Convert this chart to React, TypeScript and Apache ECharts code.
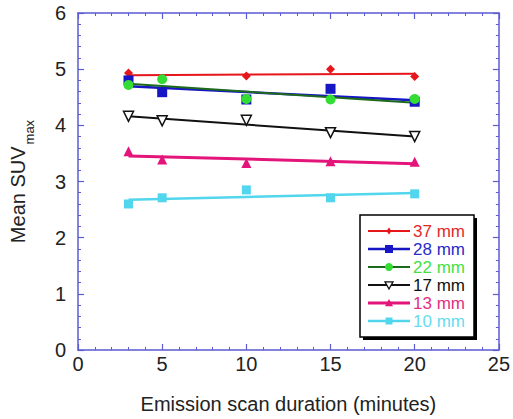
import React, { useEffect, useRef } from "react";
import * as echarts from "echarts";

const durations = [3, 5, 10, 15, 20];
const sizes = ["37 mm", "28 mm", "22 mm", "17 mm", "13 mm", "10 mm"];
const v37 = [4.93, 4.84, 4.88, 5.0, 4.87];
const v28 = [4.8, 4.59, 4.46, 4.65, 4.42];
const v22 = [4.72, 4.82, 4.47, 4.46, 4.47];
const v17 = [4.16, 4.08, 4.09, 3.87, 3.8];
const v13 = [3.54, 3.39, 3.33, 3.36, 3.35];
const v10 = [2.6, 2.71, 2.85, 2.71, 2.78];
const values = [v37, v28, v22, v17, v13, v10];

const lineColors = ["#e5161c", "#1616c4", "#1d6a1d", "#111111", "#e3157a", "#52d6ee"];
const markColors = ["#e5161c", "#1616c4", "#33dd33", "#ffffff", "#e3157a", "#52d6ee"];
const textColors = ["#e02a2a", "#2a2ac8", "#44e044", "#111111", "#e0307f", "#66dcf0"];
const symbols = ["diamond", "rect", "circle", "triangle", "triangle", "rect"];
const symSizes = [9, 10, 10, 10, 10, 9];
const lineWidths = [2, 2.5, 2, 2, 3, 2.5];

function fit(xs: number[], ys: number[]) {
  const n = xs.length;
  const mx = xs.reduce((a, b) => a + b, 0) / n;
  const my = ys.reduce((a, b) => a + b, 0) / n;
  let sxx = 0, sxy = 0;
  for (let i = 0; i < n; i++) {
    sxx += (xs[i] - mx) ** 2;
    sxy += (xs[i] - mx) * (ys[i] - my);
  }
  const b = sxy / sxx;
  const a = my - b * mx;
  const x0 = Math.min(...xs), x1 = Math.max(...xs);
  return [[x0, a + b * x0], [x1, a + b * x1]];
}

export default function App() {
  const ref = useRef<HTMLDivElement>(null);
  useEffect(() => {
    const chart = echarts.init(ref.current!, undefined, { renderer: "svg" });
    const font = "'Liberation Sans', Arial, sans-serif";
    const axisColor = "#5b5bd2";
    const baseAxis = {
      axisLine: { show: true, onZero: false, lineStyle: { color: axisColor, width: 1.5 } },
      axisTick: { show: true, inside: true, length: 6, lineStyle: { color: axisColor, width: 1.2 } },
      minorTick: { show: true, splitNumber: 5, length: 3, lineStyle: { color: axisColor, width: 1 } },
      splitLine: { show: false },
    };
    const lineSeries = values.map((v, i) => ({
      type: "line",
      name: sizes[i] + " fit",
      data: fit(durations, v),
      symbol: "none",
      lineStyle: { color: lineColors[i], width: lineWidths[i] },
      z: 2,
    }));
    const scatterSeries = values.map((v, i) => ({
      type: "scatter",
      name: sizes[i],
      data: durations.map((d, j) => [d, v[j]]),
      symbol: symbols[i],
      symbolSize: symSizes[i],
      symbolRotate: i === 3 ? 180 : 0,
      itemStyle: {
        color: markColors[i],
        borderColor: i === 3 ? "#111" : markColors[i],
        borderWidth: i === 3 ? 1.5 : 0,
        opacity: 1,
      },
      z: 3,
    }));

    const lx = 360, ly = 215, lw = 114, lh = 122;
    const legendEls: any[] = [
      { type: "rect", shape: { x: lx + 3, y: ly + 3, width: lw, height: lh }, style: { fill: "#000" }, z: 10 },
      { type: "rect", shape: { x: lx, y: ly, width: lw, height: lh }, style: { fill: "#fff", stroke: "#000", lineWidth: 1.5 }, z: 11 },
    ];
    sizes.forEach((s, i) => {
      const cy = ly + 16 + i * 18;
      const x0 = lx + 8, x1 = lx + 50, cx = (x0 + x1) / 2;
      legendEls.push({ type: "line", shape: { x1: x0, y1: cy, x2: x1, y2: cy }, style: { stroke: lineColors[i], lineWidth: lineWidths[i] }, z: 12 });
      const r = symSizes[i] / 2 - 1;
      const fill = markColors[i];
      const stroke = i === 3 ? "#111" : fill;
      let el: any;
      if (symbols[i] === "diamond") {
        el = { type: "polygon", shape: { points: [[cx, cy - r], [cx + r * 0.7, cy], [cx, cy + r], [cx - r * 0.7, cy]] } };
      } else if (symbols[i] === "rect") {
        el = { type: "rect", shape: { x: cx - r, y: cy - r, width: 2 * r, height: 2 * r } };
      } else if (symbols[i] === "circle") {
        el = { type: "circle", shape: { cx, cy, r } };
      } else if (i === 3) {
        el = { type: "polygon", shape: { points: [[cx - r, cy - r * 0.8], [cx + r, cy - r * 0.8], [cx, cy + r]] } };
      } else {
        el = { type: "polygon", shape: { points: [[cx - r, cy + r * 0.8], [cx + r, cy + r * 0.8], [cx, cy - r]] } };
      }
      el.style = { fill, stroke, lineWidth: i === 3 ? 1.3 : 0 };
      el.z = 13;
      legendEls.push(el);
      legendEls.push({
        type: "text",
        x: x1 + 3,
        y: cy,
        style: { text: s, fill: textColors[i], font: `17px ${font}`, textVerticalAlign: "middle", textAlign: "left" },
        z: 13,
      });
    });

    chart.setOption({
      animation: false,
      backgroundColor: "#fff",
      textStyle: { fontFamily: font },
      grid: { left: 76, right: 13, top: 13, bottom: 64, containLabel: false },
      xAxis: [
        {
          ...baseAxis,
          type: "value",
          min: 0,
          max: 25,
          interval: 5,
          position: "bottom",
          axisLabel: { color: "#222", fontSize: 20, margin: 4, fontFamily: font },
          name: "Emission scan duration (minutes)",
          nameLocation: "middle",
          nameGap: 44,
          nameTextStyle: { color: "#222", fontSize: 20, fontFamily: font },
        },
        {
          ...baseAxis,
          type: "value",
          min: 0,
          max: 25,
          interval: 5,
          position: "top",
          axisLabel: { show: false },
        },
      ],
      yAxis: [
        {
          ...baseAxis,
          type: "value",
          min: 0,
          max: 6,
          interval: 1,
          position: "left",
          axisLabel: { color: "#222", fontSize: 20, margin: 12, fontFamily: font },
          name: "{a|Mean SUV}{b|max}",
          nameLocation: "middle",
          nameGap: 42,
          nameRotate: 90,
          nameTextStyle: {
            color: "#222",
            fontFamily: font,
            rich: {
              a: { fontSize: 20, color: "#222", fontFamily: font, lineHeight: 36, verticalAlign: "middle" },
              b: { fontSize: 13, color: "#222", fontFamily: font, lineHeight: 13, verticalAlign: "bottom", padding: [0, 0, 0, 2] },
            },
          },
        },
        {
          ...baseAxis,
          type: "value",
          min: 0,
          max: 6,
          interval: 1,
          position: "right",
          axisLabel: { show: false },
        },
      ],
      series: [...lineSeries, ...scatterSeries],
      graphic: legendEls,
    });
    return () => chart.dispose();
  }, []);
  return <div ref={ref} style={{ width: 513, height: 419, position: "absolute", left: 0, top: 0 }} />;
}
